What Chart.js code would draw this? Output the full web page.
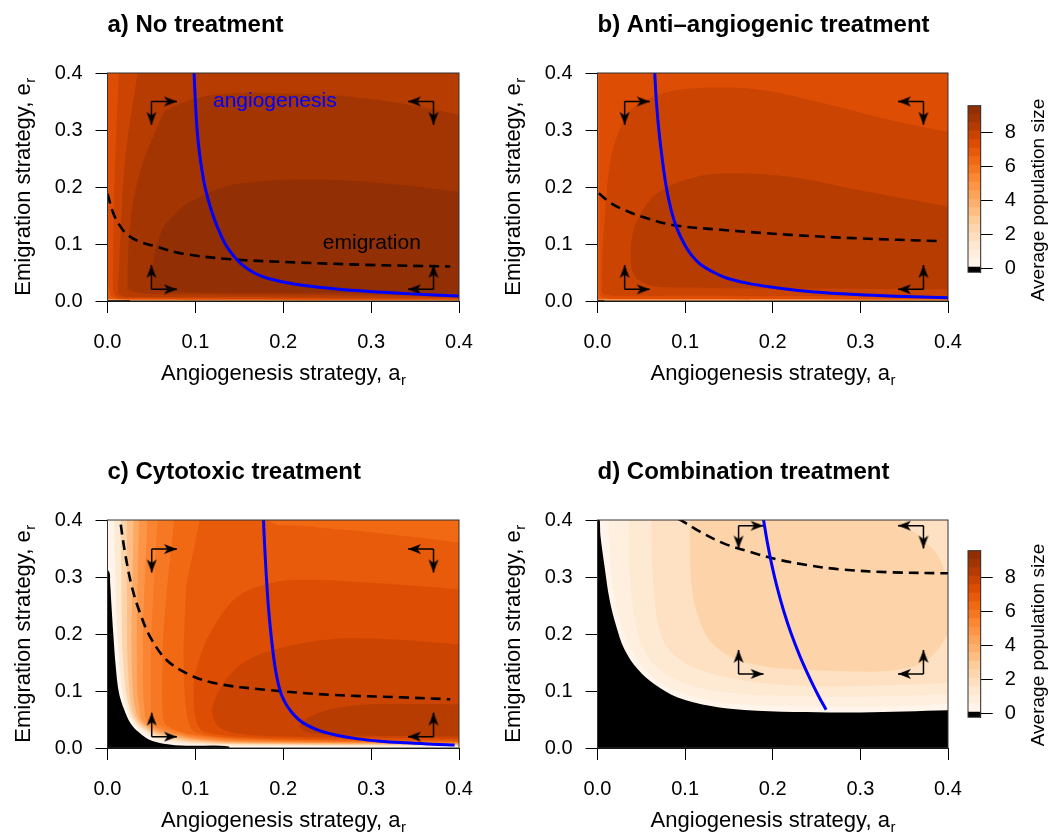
<!DOCTYPE html>
<html><head><meta charset="utf-8">
<script src="https://cdn.jsdelivr.net/npm/chart.js@4.4.1/dist/chart.umd.min.js"></script>
<style>
html,body{margin:0;padding:0;background:#fff;}
body{width:1048px;height:832px;position:relative;overflow:hidden;}
canvas{position:absolute;}
</style></head><body>
<canvas id="pa" width="490" height="420" style="left:0px;top:0px"></canvas>
<canvas id="pb" width="490" height="420" style="left:490px;top:0px"></canvas>
<canvas id="pc" width="490" height="420" style="left:0px;top:447px"></canvas>
<canvas id="pd" width="490" height="420" style="left:490px;top:447px"></canvas>
<canvas id="cb1" width="148" height="260" style="left:900px;top:60px"></canvas>
<canvas id="cb2" width="148" height="260" style="left:900px;top:505px"></canvas>
<script>
// ---------------- data ----------------
const xTicks = [0, 0.1, 0.2, 0.3, 0.4];
const yTicks = [0, 0.1, 0.2, 0.3, 0.4];
const cbTicks = [0, 2, 4, 6, 8];
const cbEdges = [-0.25, 0.05, 0.55, 1.05, 1.55, 2.05, 2.55, 3.05, 3.55, 4.05, 4.55, 5.05, 5.55, 6.05, 6.55, 7.05, 7.55, 8.05, 8.55, 9.05, 9.55];
const titles = ['a) No treatment', 'b) Anti\u2013angiogenic treatment', 'c) Cytotoxic treatment', 'd) Combination treatment'];
const xTitle = ['Angiogenesis strategy, a', 'r'];
const yTitle = ['Emigration strategy, e', 'r'];
const cbTitle = 'Average population size';

const edgeTop = [[-0.01, 0.45], [0.42, 0.45]];
const edgeBottom = [[-0.01, -0.01], [0.42, -0.01]];

// Panel a: contour levels (value) with upper / lower boundaries
const aVals = [4.0, 6.5, 7.0, 7.5, 8.0, 8.5, 9.0, -1];
const aLo1 = [[-0.01,0.004],[0.03,0.002],[0.42,0.0015]];
const aLo2 = [[0.0006,0.03],[0.005,0.008],[0.02,0.004],[0.42,0.003]];
const aLo3 = [[0.006,0.02],[0.01,0.008],[0.03,0.005],[0.42,0.004]];
const aHi3 = [[0.006,0.02],[0.0065,0.08],[0.0074,0.17],[0.01,0.3],[0.013,0.4],[0.0135,0.45],[0.42,0.45]];
const aLo4 = [[0.012,0.012],[0.02,0.008],[0.05,0.007],[0.42,0.006]];
const aHi4 = [[0.012,0.012],[0.0121,0.02],[0.013,0.054],[0.015,0.12],[0.019,0.23],[0.026,0.32],[0.034,0.4],[0.0345,0.45],[0.42,0.45]];
const aLo5 = [[0.0226,0.022],[0.03,0.016],[0.06,0.012],[0.42,0.01]];
const aHi5 = [[0.0226,0.022],[0.0227,0.054],[0.0264,0.142],[0.0378,0.23],[0.0605,0.318],[0.0675,0.335],[0.105,0.357],[0.15,0.365],[0.2,0.364],[0.257,0.361],[0.333,0.347],[0.42,0.32]];
const aLo6 = [[0.051,0.02],[0.07,0.016],[0.42,0.013]];
const aHi6 = [[0.051,0.02],[0.0511,0.031],[0.053,0.078],[0.0624,0.125],[0.075,0.15],[0.091,0.171],[0.1326,0.2],[0.162,0.208],[0.219,0.213],[0.295,0.209],[0.42,0.188]];
const aBlackHi = [[-0.01,0.0015],[0.026,0.0015]];
const aBlue = [[0.098,0.42],[0.0985,0.4],[0.1,0.35],[0.102,0.3],[0.1055,0.25],[0.111,0.2],[0.118,0.16],[0.125,0.13],[0.134,0.1],[0.143,0.08],[0.152,0.065],[0.166,0.05],[0.182,0.04],[0.212,0.03],[0.255,0.022],[0.295,0.017],[0.345,0.0125],[0.4,0.0088]];
const aDash = [[0,0.188],[0.0068,0.153],[0.015,0.13],[0.022,0.117],[0.035,0.105],[0.052,0.097],[0.086,0.083],[0.143,0.073],[0.219,0.0675],[0.295,0.0634],[0.39,0.0605]];
const aArrows = [[0.05,0.35,0.079,0.35],[0.05,0.35,0.05,0.309],[0.371,0.35,0.342,0.35],[0.371,0.35,0.371,0.309],[0.05,0.0205,0.079,0.0205],[0.05,0.0205,0.05,0.063],[0.371,0.0205,0.342,0.0205],[0.371,0.0205,0.371,0.063]];
const aLabels = [['angiogenesis', 0.12, 0.35, '#0000FF'], ['emigration', 0.245, 0.101, '#000000']];

// Panel b
const bVals = [4.0, 6.5, 7.0, 7.5, 8.0, -1];
const bLo1 = [[-0.01,0.003],[0.42,0.002]];
const bLo2 = [[0.002,0.012],[0.006,0.006],[0.03,0.004],[0.42,0.0035]];
const bLo3 = [[0.005,0.015],[0.01,0.011],[0.03,0.009],[0.42,0.008]];
const bHi3 = [[0.005,0.015],[0.0053,0.072],[0.0091,0.16],[0.0148,0.247],[0.025,0.3],[0.0376,0.335],[0.07,0.362],[0.106,0.373],[0.182,0.371],[0.258,0.347],[0.334,0.3175],[0.42,0.29]];
const bLo4 = [[0.0376,0.07],[0.042,0.045],[0.055,0.03],[0.08,0.024],[0.42,0.02]];
const bHi4 = [[0.0376,0.07],[0.0377,0.095],[0.0452,0.142],[0.068,0.189],[0.106,0.215],[0.144,0.224],[0.22,0.218],[0.296,0.195],[0.42,0.16]];
const bBlackHi = [[-0.01,0.0015],[0.008,0.0015]];
const bBlue = [[0.0648,0.42],[0.0653,0.4],[0.0672,0.35],[0.07,0.3],[0.0738,0.25],[0.0785,0.2],[0.084,0.16],[0.09,0.13],[0.099,0.1],[0.1075,0.08],[0.117,0.065],[0.133,0.05],[0.148,0.04],[0.175,0.03],[0.21,0.022],[0.248,0.016],[0.295,0.0115],[0.34,0.0085],[0.4,0.0055]];
const bDash = [[0.0015,0.189],[0.015,0.172],[0.03,0.16],[0.0528,0.147],[0.087,0.133],[0.144,0.1246],[0.22,0.116],[0.296,0.11],[0.391,0.105]];
const bArrows = [[0.031,0.35,0.0596,0.35],[0.031,0.35,0.031,0.309],[0.372,0.35,0.343,0.35],[0.372,0.35,0.372,0.309],[0.031,0.0205,0.0596,0.0205],[0.031,0.0205,0.031,0.063],[0.372,0.0205,0.343,0.0205],[0.372,0.0205,0.372,0.063]];

// Panel c
const cVals = [-1, 0, 1.0, 2.2, 3.0, 3.8, 4.5, 5.1, 5.5, 6.0, 6.5, 7.0, 7.5, 8.0];
const cLo1 = [[-0.01,0.32],[0.0015,0.31],[0.003,0.29],[0.0045,0.25],[0.0066,0.2],[0.0093,0.144],[0.013,0.097],[0.0188,0.068],[0.026,0.044],[0.036,0.027],[0.047,0.015],[0.064,0.0076],[0.09,0.004],[0.138,0.0025],[0.1385,-0.01],[0.42,-0.01]];
const cLo2 = [[0.0074,0.41],[0.009,0.3],[0.011,0.2],[0.0145,0.13],[0.017,0.1],[0.022,0.07],[0.027,0.05],[0.037,0.032],[0.05,0.019],[0.07,0.011],[0.1,0.0065],[0.15,0.004],[0.42,0.003]];
const cLo3 = [[0.015,0.41],[0.0158,0.3],[0.0165,0.2],[0.018,0.15],[0.021,0.1],[0.025,0.07],[0.03,0.05],[0.04,0.034],[0.055,0.022],[0.075,0.014],[0.1,0.009],[0.15,0.006],[0.42,0.004]];
const cLo4 = [[0.0218,0.41],[0.0219,0.3],[0.022,0.2],[0.023,0.15],[0.025,0.1],[0.028,0.07],[0.033,0.05],[0.043,0.035],[0.058,0.024],[0.08,0.016],[0.1,0.012],[0.15,0.0075],[0.42,0.005]];
const cHi5 = [[0.027,0.2],[0.0285,0.3],[0.0294,0.4],[0.0296,0.45],[0.42,0.45]];
const cLo5 = [[0.027,0.2],[0.0275,0.15],[0.029,0.1],[0.031,0.075],[0.036,0.05],[0.046,0.036],[0.062,0.025],[0.085,0.017],[0.1,0.014],[0.15,0.009],[0.42,0.006]];
const cHi6 = [[0.033,0.19],[0.0345,0.3],[0.0358,0.4],[0.036,0.45],[0.42,0.45]];
const cLo6 = [[0.033,0.19],[0.0335,0.14],[0.034,0.1],[0.036,0.075],[0.039,0.05],[0.049,0.037],[0.066,0.027],[0.09,0.019],[0.1,0.016],[0.15,0.0105],[0.42,0.007]];
const cHi7 = [[0.04,0.15],[0.0401,0.2],[0.0425,0.3],[0.0453,0.4],[0.0456,0.45],[0.42,0.45]];
const cLo7 = [[0.04,0.15],[0.0405,0.1],[0.042,0.07],[0.044,0.05],[0.053,0.038],[0.07,0.028],[0.1,0.018],[0.15,0.012],[0.42,0.008]];
const cHi8 = [[0.049,0.12],[0.05,0.2],[0.053,0.3],[0.0567,0.4],[0.057,0.45],[0.42,0.45]];
const cLo8 = [[0.049,0.12],[0.0495,0.09],[0.051,0.05],[0.06,0.04],[0.075,0.03],[0.1,0.021],[0.15,0.0135],[0.42,0.009]];
const cHi9 = [[0.062,0.1],[0.0625,0.15],[0.0635,0.2],[0.069,0.3],[0.0757,0.4],[0.076,0.45],[0.42,0.45]];
const cLo9 = [[0.062,0.1],[0.0625,0.07],[0.0635,0.05],[0.067,0.04],[0.08,0.03],[0.1,0.023],[0.15,0.016],[0.25,0.012],[0.42,0.01]];
const cHi10 = [[0.0863,0.169],[0.088,0.23],[0.09,0.286],[0.097,0.34],[0.105,0.4],[0.112,0.45],[0.17,0.45],[0.185,0.397],[0.22,0.39],[0.291,0.38],[0.35,0.37],[0.42,0.356]];
const cLo10 = [[0.0863,0.169],[0.087,0.12],[0.09,0.06],[0.095,0.035],[0.101,0.027],[0.13,0.019],[0.2,0.015],[0.42,0.011]];
const cHi11 = [[0.0977,0.11],[0.1015,0.14],[0.11,0.18],[0.12,0.21],[0.135,0.245],[0.151,0.269],[0.177,0.286],[0.215,0.295],[0.3,0.29],[0.42,0.276]];
const cLo11 = [[0.0977,0.11],[0.098,0.082],[0.1,0.055],[0.104,0.037],[0.11,0.029],[0.14,0.021],[0.2,0.017],[0.42,0.013]];
const cHi12 = [[0.119,0.07],[0.125,0.095],[0.139,0.128],[0.16,0.155],[0.196,0.175],[0.23,0.186],[0.272,0.193],[0.33,0.19],[0.42,0.179]];
const cLo12 = [[0.119,0.07],[0.12,0.055],[0.125,0.04],[0.132,0.032],[0.15,0.025],[0.2,0.02],[0.42,0.016]];
const cHi13 = [[0.218,0.038],[0.225,0.05],[0.238,0.06],[0.26,0.07],[0.291,0.076],[0.35,0.077],[0.42,0.076]];
const cLo13 = [[0.218,0.038],[0.225,0.029],[0.238,0.025],[0.27,0.022],[0.42,0.02]];
const cBlue = [[0.1772,0.42],[0.1775,0.4],[0.179,0.35],[0.1808,0.3],[0.183,0.25],[0.186,0.2],[0.189,0.16],[0.192,0.13],[0.1965,0.1],[0.202,0.08],[0.2085,0.065],[0.2175,0.05],[0.227,0.04],[0.242,0.03],[0.262,0.022],[0.285,0.016],[0.31,0.012],[0.34,0.009],[0.37,0.0065],[0.395,0.0052]];
const cDash = [[0.013,0.42],[0.0144,0.4],[0.0201,0.341],[0.0277,0.283],[0.0372,0.236],[0.0485,0.195],[0.0675,0.154],[0.094,0.128],[0.124,0.113],[0.181,0.102],[0.257,0.093],[0.333,0.089],[0.39,0.0854]];
const cArrows = [[0.0503,0.349,0.079,0.349],[0.0503,0.349,0.0503,0.308],[0.371,0.349,0.342,0.349],[0.371,0.349,0.371,0.308],[0.0503,0.0199,0.079,0.0199],[0.0503,0.0199,0.0503,0.062],[0.371,0.0199,0.342,0.0199],[0.371,0.0199,0.371,0.062]];

// Panel d
const dVals = [-1, 0, 0.5, 1.0, 1.5, 2.2];
const dLo1 = [[-0.01,0.45],[0.0015,0.41],[0.0034,0.372],[0.008,0.319],[0.0137,0.261],[0.0213,0.214],[0.0308,0.173],[0.046,0.138],[0.065,0.112],[0.0915,0.0888],[0.1295,0.0737],[0.1675,0.0667],[0.2245,0.0632],[0.3,0.0625],[0.35,0.064],[0.42,0.067]];
const dLo2 = [[0.012,0.45],[0.013,0.4],[0.016,0.3],[0.023,0.24],[0.031,0.2],[0.045,0.155],[0.065,0.122],[0.09,0.1],[0.13,0.083],[0.17,0.076],[0.26,0.0725],[0.33,0.073],[0.42,0.079]];
const dLo3 = [[0.035,0.45],[0.0355,0.4],[0.037,0.3],[0.046,0.2],[0.06,0.155],[0.08,0.128],[0.11,0.108],[0.15,0.097],[0.2,0.092],[0.26,0.09],[0.33,0.091],[0.42,0.096]];
const dLo4 = [[0.061,0.45],[0.0615,0.4],[0.063,0.3],[0.072,0.2],[0.09,0.16],[0.12,0.135],[0.16,0.12],[0.2,0.112],[0.26,0.108],[0.33,0.11],[0.42,0.116]];
const dLo5 = [[0.105,0.45],[0.1052,0.4],[0.107,0.29],[0.114,0.235],[0.129,0.187],[0.156,0.157],[0.194,0.142],[0.2245,0.138],[0.3,0.134],[0.34,0.137],[0.372,0.15],[0.392,0.18],[0.4,0.2],[0.42,0.23]];
const dHi5 = [[0.105,0.45],[0.325,0.45],[0.345,0.4],[0.368,0.37],[0.387,0.341],[0.4,0.3],[0.42,0.26]];
const dBlue = [[0.1885,0.41],[0.1895,0.4],[0.1939,0.36],[0.1991,0.32],[0.2053,0.28],[0.2126,0.24],[0.2212,0.2],[0.2313,0.16],[0.243,0.12],[0.2527,0.09],[0.2609,0.067]];
const dDash = [[0.092,0.402],[0.097,0.398],[0.1174,0.379],[0.144,0.359],[0.174,0.344],[0.2048,0.331],[0.2389,0.321],[0.277,0.3134],[0.334,0.3083],[0.4,0.3065]];
const dArrows = [[0.161,0.39,0.1895,0.39],[0.161,0.39,0.161,0.35],[0.372,0.39,0.343,0.39],[0.372,0.39,0.372,0.35],[0.161,0.13,0.1895,0.13],[0.161,0.13,0.161,0.172],[0.372,0.13,0.343,0.13],[0.372,0.13,0.372,0.172]];

// ---------------- styling / helpers ----------------
const FONT = '"Liberation Sans", Arial, Helvetica, sans-serif';
Chart.defaults.font.family = FONT;
Chart.defaults.color = '#000';
const ORANGES = [[255,245,235],[254,230,206],[253,208,162],[253,174,107],[253,141,60],[241,105,19],[217,72,1],[166,54,3],[127,39,4]];
const VMAX = 9.6;
function ramp(v) {
  if (v < 0) return '#000000';
  const t = Math.min(Math.max(v / VMAX, 0), 1) * 8;
  const i = Math.min(Math.floor(t), 7), f = t - i;
  const a = ORANGES[i], b = ORANGES[i + 1];
  return 'rgb(' + [0,1,2].map(k => Math.round(a[k] + (b[k] - a[k]) * f)).join(',') + ')';
}
function xy(arr) { return arr.map(p => ({x: p[0], y: p[1]})); }
const HEAD = (function () {
  const c = document.createElement('canvas'); c.width = 28; c.height = 12;
  const g = c.getContext('2d'); g.fillStyle = '#000';
  g.beginPath(); g.moveTo(14, 6); g.lineTo(1, 1); g.lineTo(4.5, 6); g.lineTo(1, 11); g.closePath(); g.fill();
  return c;
})();

function drawSub(ctx, parts, cx, cy, rot, size) {
  ctx.save(); ctx.translate(cx, cy); ctx.rotate(rot);
  const subSize = Math.round(size * 0.7);
  ctx.font = size + 'px ' + FONT; const w1 = ctx.measureText(parts[0]).width;
  ctx.font = subSize + 'px ' + FONT; const w2 = ctx.measureText(parts[1]).width;
  const x0 = -(w1 + w2) / 2;
  ctx.textAlign = 'left'; ctx.textBaseline = 'alphabetic'; ctx.fillStyle = '#000';
  ctx.font = size + 'px ' + FONT; ctx.fillText(parts[0], x0, 0);
  ctx.font = subSize + 'px ' + FONT; ctx.fillText(parts[1], x0 + w1 + 0.5, size * 0.22);
  ctx.restore();
}

const panelDecor = {
  id: 'panelDecor',
  afterDatasetsDraw(chart, args, o) {
    const {ctx, chartArea: a, scales: {x, y}} = chart;
    ctx.save();
    ctx.strokeStyle = '#333'; ctx.lineWidth = 1;
    ctx.strokeRect(a.left, a.top, a.right - a.left, a.bottom - a.top);
    (o.labels || []).forEach(l => {
      ctx.font = '21px ' + FONT; ctx.fillStyle = l[3]; ctx.textAlign = 'left'; ctx.textBaseline = 'middle';
      ctx.fillText(l[0], x.getPixelForValue(l[1]), y.getPixelForValue(l[2]));
    });
    ctx.restore();
  },
  afterDraw(chart, args, o) {
    const {ctx, chartArea: a} = chart;
    ctx.save();
    ctx.fillStyle = '#000'; ctx.font = 'bold 24px ' + FONT; ctx.textAlign = 'left'; ctx.textBaseline = 'alphabetic';
    ctx.fillText(o.title, a.left, a.top - 41);
    ctx.restore();
    drawSub(ctx, xTitle, (a.left + a.right) / 2, a.bottom + 79, 0, 22);
    drawSub(ctx, yTitle, 30, (a.top + a.bottom) / 2, -Math.PI / 2, 22);
  }
};

function buildPanel(id, title, vals, layers, blue, dash, arrows, labels, padRight) {
  const datasets = [];
  const smooth = {tension: 0.35};
  layers.forEach((L, k) => {
    datasets.push(Object.assign({data: xy(L[0]), fill: '+1', backgroundColor: ramp(vals[k]), borderWidth: 0, pointRadius: 0, order: 1000 - k}, smooth));
    datasets.push(Object.assign({data: xy(L[1]), fill: false, borderWidth: 0, pointRadius: 0, order: 1000 - k}, smooth));
  });
  arrows.forEach(a => {
    const rot = a[2] > a[0] ? 0 : a[2] < a[0] ? 180 : a[3] > a[1] ? 270 : 90;
    datasets.push({data: xy([[a[0], a[1]], [a[2], a[3]]]), fill: false, borderColor: '#000', borderWidth: 1.5,
      pointRadius: [0, 6], pointStyle: HEAD, pointRotation: [0, rot], order: 2});
  });
  datasets.push(Object.assign({data: xy(dash), fill: false, borderColor: '#000', borderWidth: 2.6, borderDash: [10, 6], pointRadius: 0, order: 1}, smooth));
  datasets.push(Object.assign({data: xy(blue), fill: false, borderColor: '#0000FF', borderWidth: 3, pointRadius: 0, order: 0}, smooth));
  const axis = (isX) => ({
    type: 'linear', min: 0, max: 0.4,
    afterBuildTicks: s => { s.ticks = (isX ? xTicks : yTicks).map(v => ({value: v})); },
    afterFit: s => { if (isX) s.height = 119; else s.width = 107.5; },
    ticks: {font: {size: 20, family: FONT}, color: '#000', padding: isX ? 17 : 13, maxRotation: 0, autoSkip: false,
      callback: v => Number(v).toFixed(1)},
    grid: {drawOnChartArea: false, drawTicks: true, tickLength: 12, color: '#000', lineWidth: 1},
    border: {display: true, color: '#000', width: 1}
  });
  new Chart(document.getElementById(id), {
    type: 'line',
    data: {datasets},
    options: {
      responsive: false, animation: false, events: [],
      layout: {padding: {left: 0, top: 73, right: padRight, bottom: 0}},
      plugins: {legend: {display: false}, tooltip: {enabled: false}, panelDecor: {title, labels}},
      scales: {x: axis(true), y: axis(false)}
    },
    plugins: [panelDecor]
  });
}

const cbDecor = {
  id: 'cbDecor',
  afterDraw(chart) {
    const {ctx, chartArea: a} = chart;
    ctx.save();
    ctx.strokeStyle = '#333'; ctx.lineWidth = 1;
    ctx.strokeRect(a.left, a.top, a.right - a.left, a.bottom - a.top);
    ctx.translate(144, 140); ctx.rotate(-Math.PI / 2);
    ctx.font = '19px ' + FONT; ctx.fillStyle = '#000'; ctx.textAlign = 'center'; ctx.textBaseline = 'alphabetic';
    ctx.fillText(cbTitle, 0, 0);
    ctx.restore();
  }
};
function buildColorbar(id) {
  const datasets = [];
  for (let i = 0; i < cbEdges.length - 1; i++) {
    datasets.push({data: [[cbEdges[i], cbEdges[i + 1]]], backgroundColor: i === 0 ? '#000000' : ramp(cbEdges[i]),
      borderWidth: 0, grouped: false, barPercentage: 1, categoryPercentage: 1});
  }
  new Chart(document.getElementById(id), {
    type: 'bar',
    data: {labels: [''], datasets},
    options: {
      responsive: false, animation: false, events: [],
      layout: {padding: {left: 68, top: 45.65, right: 0, bottom: 47.75}},
      plugins: {legend: {display: false}, tooltip: {enabled: false}},
      scales: {
        x: {display: false},
        y: {position: 'right', min: cbEdges[0], max: cbEdges[cbEdges.length - 1],
          afterBuildTicks: s => { s.ticks = cbTicks.map(v => ({value: v})); },
          afterFit: s => { s.width = 67.3; },
          ticks: {font: {size: 20, family: FONT}, color: '#000', padding: 12, callback: v => String(v)},
          grid: {drawOnChartArea: false, drawTicks: true, tickLength: 12, color: '#000'},
          border: {display: true, color: '#333'}}
      }
    },
    plugins: [cbDecor]
  });
}

buildPanel('pa', titles[0], aVals,
  [[edgeTop, edgeBottom], [edgeTop, aLo1], [edgeTop, aLo2], [aHi3, aLo3], [aHi4, aLo4], [aHi5, aLo5], [aHi6, aLo6], [aBlackHi, edgeBottom]],
  aBlue, aDash, aArrows, aLabels, 31);
buildPanel('pb', titles[1], bVals,
  [[edgeTop, edgeBottom], [edgeTop, bLo1], [edgeTop, bLo2], [bHi3, bLo3], [bHi4, bLo4], [bBlackHi, edgeBottom]],
  bBlue, bDash, bArrows, [], 32);
buildPanel('pc', titles[2], cVals,
  [[edgeTop, edgeBottom], [edgeTop, cLo1], [edgeTop, cLo2], [edgeTop, cLo3], [edgeTop, cLo4], [cHi5, cLo5], [cHi6, cLo6], [cHi7, cLo7],
   [cHi8, cLo8], [cHi9, cLo9], [cHi10, cLo10], [cHi11, cLo11], [cHi12, cLo12], [cHi13, cLo13]],
  cBlue, cDash, cArrows, [], 31);
buildPanel('pd', titles[3], dVals,
  [[edgeTop, edgeBottom], [edgeTop, dLo1], [edgeTop, dLo2], [edgeTop, dLo3], [edgeTop, dLo4], [dHi5, dLo5]],
  dBlue, dDash, dArrows, [], 32);
buildColorbar('cb1');
buildColorbar('cb2');
</script>
</body></html>
